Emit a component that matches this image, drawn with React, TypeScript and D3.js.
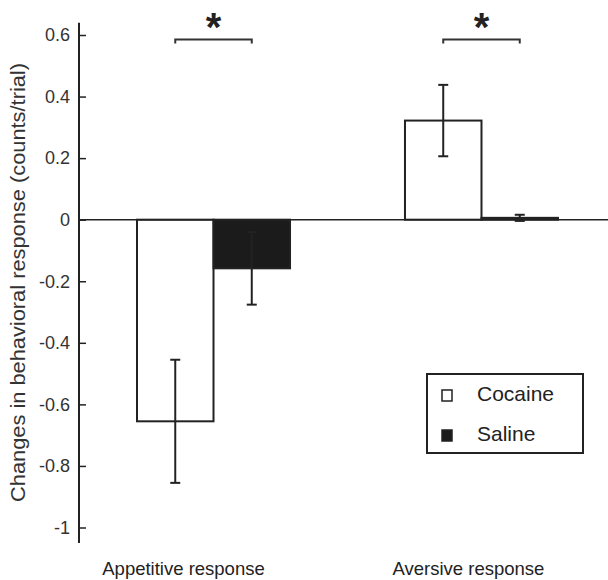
import React, { useRef, useEffect } from "react";
import * as d3 from "d3";

// values
const categories = ["Appetitive response", "Aversive response"];
const series = ["Cocaine", "Saline"];
const cocaineMeans = [-0.655, 0.322];
const cocaineErr = [0.2, 0.116];
const salineMeans = [-0.158, 0.006];
const salineErr = [0.118, 0.01];
const yTicks = [0.6, 0.4, 0.2, 0, -0.2, -0.4, -0.6, -0.8, -1];
const significance = ["*", "*"];

const W = 608;
const H = 580;
const FONT = "'Liberation Sans', Arial, sans-serif";
const INK = "#222";

export default function App() {
  const svgRef = useRef<SVGSVGElement>(null);

  useEffect(() => {
    const svg = d3.select(svgRef.current);
    svg.selectAll("*").remove();

    const rows = categories.map((c, i) => ({
      category: c,
      values: [
        { key: series[0], mean: cocaineMeans[i], err: cocaineErr[i] },
        { key: series[1], mean: salineMeans[i], err: salineErr[i] },
      ],
    }));

    const y = d3.scaleLinear().domain([-1, 0.6]).range([527.5, 35]);
    const x0 = d3
      .scaleBand<string>()
      .domain(categories)
      .range([137, 558])
      .paddingInner(0.429)
      .paddingOuter(0);
    const x1 = d3
      .scaleBand<string>()
      .domain(series)
      .range([0, x0.bandwidth()]);
    const fill = d3.scaleOrdinal<string, string>().domain(series).range(["#fff", "#1b1b1b"]);

    const axisX = 79;

    // y axis, ticks pointing inward
    const yAxis = svg
      .append("g")
      .attr("transform", `translate(${axisX},0)`)
      .call(
        d3
          .axisLeft(y)
          .tickValues(yTicks)
          .tickSizeInner(-7)
          .tickSizeOuter(0)
          .tickPadding(9)
          .tickFormat((d) => String(+(+d).toFixed(1)))
      );
    yAxis.select(".domain").remove();
    yAxis.selectAll(".tick line").attr("stroke", INK).attr("stroke-width", 1.5);
    yAxis
      .selectAll(".tick text")
      .attr("font-family", FONT)
      .attr("font-size", 18)
      .attr("fill", "#333");

    svg
      .append("line")
      .attr("x1", axisX)
      .attr("x2", axisX)
      .attr("y1", y(0.64))
      .attr("y2", y(-1.05))
      .attr("stroke", INK)
      .attr("stroke-width", 2);

    // bars
    const groups = svg
      .selectAll(".grp")
      .data(rows)
      .join("g")
      .attr("class", "grp")
      .attr("transform", (d) => `translate(${x0(d.category)},0)`);

    groups
      .selectAll("rect")
      .data((d) => d.values)
      .join("rect")
      .attr("x", (d) => x1(d.key)!)
      .attr("width", x1.bandwidth())
      .attr("y", (d) => y(Math.max(0, d.mean)))
      .attr("height", (d) => Math.abs(y(d.mean) - y(0)))
      .attr("fill", (d) => fill(d.key))
      .attr("stroke", INK)
      .attr("stroke-width", 2);

    // zero line
    svg
      .append("line")
      .attr("x1", axisX)
      .attr("x2", W)
      .attr("y1", y(0))
      .attr("y2", y(0))
      .attr("stroke", INK)
      .attr("stroke-width", 1.5);

    // error bars
    const eb = groups
      .selectAll(".eb")
      .data((d) => d.values)
      .join("g")
      .attr("class", "eb")
      .attr("transform", (d) => `translate(${x1(d.key)! + x1.bandwidth() / 2},0)`);
    eb.append("line")
      .attr("y1", (d) => y(d.mean - d.err))
      .attr("y2", (d) => y(d.mean + d.err))
      .attr("stroke", INK)
      .attr("stroke-width", 2);
    eb.selectAll(".cap")
      .data((d) => [d.mean - d.err, d.mean + d.err])
      .join("line")
      .attr("class", "cap")
      .attr("x1", -5)
      .attr("x2", 5)
      .attr("y1", (v) => y(v))
      .attr("y2", (v) => y(v))
      .attr("stroke", INK)
      .attr("stroke-width", 2);

    // significance brackets
    const br = groups.append("g");
    br.append("path")
      .attr("d", () => {
        const a = x1(series[0])! + x1.bandwidth() / 2;
        const b = x1(series[1])! + x1.bandwidth() / 2;
        const top = y(0.585);
        return `M${a},${top + 4}V${top}H${b}V${top + 4}`;
      })
      .attr("fill", "none")
      .attr("stroke", "#333")
      .attr("stroke-width", 2);
    br.append("text")
      .attr("x", x0.bandwidth() / 2)
      .attr("y", 41)
      .attr("text-anchor", "middle")
      .attr("font-family", FONT)
      .attr("font-size", 40)
      .attr("font-weight", "bold")
      .attr("fill", INK)
      .text((_, i) => significance[i]);

    // category labels
    const labelShift = [-30, -13];
    svg
      .selectAll(".cat")
      .data(categories)
      .join("text")
      .attr("class", "cat")
      .attr("x", (d, i) => x0(d)! + x0.bandwidth() / 2 + labelShift[i])
      .attr("y", 575)
      .attr("text-anchor", "middle")
      .attr("font-family", FONT)
      .attr("font-size", 18.5)
      .attr("fill", INK)
      .text((d) => d);

    // y label
    svg
      .append("text")
      .attr("transform", `translate(25,282.5) rotate(-90)`)
      .attr("text-anchor", "middle")
      .attr("font-family", FONT)
      .attr("font-size", 21)
      .attr("textLength", 439)
      .attr("lengthAdjust", "spacingAndGlyphs")
      .attr("fill", "#333")
      .text("Changes in behavioral response (counts/trial)");

    // legend
    const lg = svg.append("g").attr("transform", "translate(427,374)");
    lg.append("rect")
      .attr("width", 156)
      .attr("height", 79)
      .attr("fill", "#fff")
      .attr("stroke", INK)
      .attr("stroke-width", 2);
    const items = lg
      .selectAll(".item")
      .data(series)
      .join("g")
      .attr("class", "item")
      .attr("transform", (_, i) => `translate(0,${16 + i * 40})`);
    items
      .append("rect")
      .attr("x", 15)
      .attr("width", 10)
      .attr("height", 11)
      .attr("fill", (d) => fill(d))
      .attr("stroke", INK)
      .attr("stroke-width", 1.5);
    items
      .append("text")
      .attr("x", 50)
      .attr("y", 11)
      .attr("font-family", FONT)
      .attr("font-size", 21)
      .attr("fill", INK)
      .text((d) => d);
  }, []);

  return (
    <svg
      ref={svgRef}
      width={W}
      height={H}
      style={{ position: "absolute", left: 0, top: 0, background: "#fff" }}
    />
  );
}
